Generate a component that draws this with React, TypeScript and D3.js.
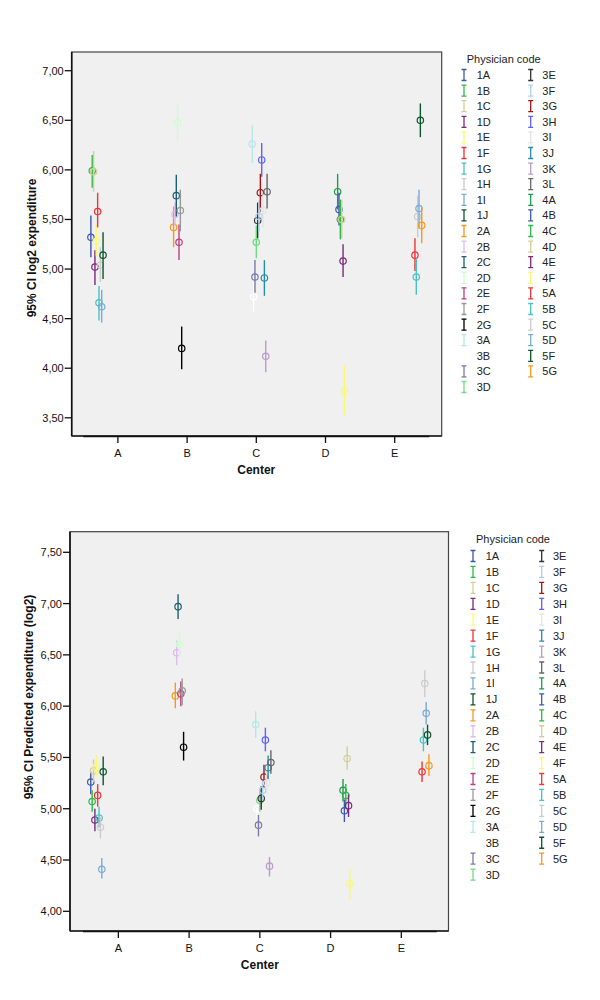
import React from 'react';
import * as d3 from 'd3';

const centers = ['A', 'B', 'C', 'D', 'E'];
const physicians = ['1A','1B','1C','1D','1E','1F','1G','1H','1I','1J','2A','2B','2C','2D','2E','2F','2G','3A','3B','3C','3D','3E','3F','3G','3H','3I','3J','3K','3L','4A','4B','4C','4D','4E','4F','5A','5B','5C','5D','5F','5G'];
const palette = ['#3E58AC','#2EB848','#D3CE97','#7C287D','#FBF873','#EF3338','#48C2C5','#CCCCCC','#7AAAD5','#0A562C','#F8981D','#DDBAF1','#1A5F76','#CCFFCC','#BB3F7F','#999999','#000000','#B6E7E8','#FFFFFF','#797AA7','#70DC84','#333333','#ACD0EE','#A21619','#5D61FF','#E4E4E4','#278BAC','#B89BC9','#666666','#1E9B4E'];

// Chart 1: 95% CI log2 expenditure
const expMean = [5.32,5.99,5.98,5.02,5.28,5.58,4.66,5.04,4.62,5.14,5.42,5.55,5.74,6.48,5.27,5.59,4.20,6.26,4.72,4.92,5.27,5.49,5.53,5.77,6.10,5.59,4.91,4.12,5.78,5.78,5.60,5.50,5.50,5.08,3.77,5.14,4.92,5.53,5.61,6.50,5.44];
const expLow = [5.12,5.82,5.78,4.84,5.13,5.42,4.48,4.87,4.46,4.90,5.22,5.43,5.53,6.29,5.09,5.38,3.99,6.07,4.57,4.76,5.11,5.31,5.37,5.57,5.93,5.42,4.73,3.96,5.61,5.60,5.44,5.30,5.31,4.92,3.53,4.98,4.74,5.32,5.41,6.33,5.26];
const expHigh = [5.54,6.15,6.19,5.19,5.45,5.77,4.83,5.22,4.79,5.37,5.63,5.67,5.95,6.67,5.45,5.80,4.42,6.45,4.88,5.09,5.44,5.67,5.69,5.96,6.27,5.76,5.09,4.28,5.96,5.96,5.77,5.70,5.70,5.25,4.03,5.31,5.10,5.74,5.80,6.67,5.62];
const expTicks = [3.5, 4.0, 4.5, 5.0, 5.5, 6.0, 6.5, 7.0];

// Chart 2: 95% CI Predicted expenditure (log2)
const predMean = [5.26,5.07,5.37,4.89,5.41,5.13,4.91,4.82,4.41,5.36,6.10,6.52,6.97,6.60,6.12,6.15,5.60,5.82,5.00,4.84,5.08,5.10,5.18,5.31,5.67,5.25,5.40,4.44,5.45,5.18,4.98,5.13,5.49,5.03,4.27,5.36,5.67,6.22,5.93,5.72,5.42];
const predLow = [5.14,4.97,5.26,4.78,5.31,5.02,4.82,4.71,4.32,5.23,5.98,6.40,6.85,6.48,6.00,6.01,5.47,5.69,4.89,4.73,4.97,4.99,5.08,5.21,5.56,5.14,5.29,4.34,5.34,5.07,4.87,5.02,5.38,4.92,4.12,5.26,5.56,6.09,5.82,5.62,5.32];
const predHigh = [5.36,5.18,5.48,5.00,5.52,5.24,5.02,4.92,4.52,5.51,6.23,6.64,7.09,6.73,6.24,6.27,5.75,5.95,5.10,4.94,5.18,5.22,5.28,5.43,5.79,5.36,5.52,4.53,5.57,5.29,5.09,5.24,5.61,5.14,4.41,5.46,5.79,6.35,6.04,5.82,5.53];
const predTicks = [4.0, 4.5, 5.0, 5.5, 6.0, 6.5, 7.0, 7.5];

const FONT = 'Liberation Sans, Arial, sans-serif';
const fmt = (v: number) => v.toFixed(2).replace('.', ',');

type PanelProps = {
  frame: { x0: number; x1: number; y0: number; y1: number };
  axisX: [number, number];
  yDomain: [number, number];
  ticks: number[];
  mean: number[]; low: number[]; high: number[];
  yTitle: string; yTitleX: number; yTitleY: number;
  legend: { titleX: number; titleY: number; iconX: number; labelX: number; icon2X: number; label2X: number; rowY: number; step: number };
};

function Panel(p: PanelProps) {
  const { frame, axisX } = p;
  const y = d3.scaleLinear().domain(p.yDomain).range([frame.y1, frame.y0]);
  const x = d3.scaleBand().domain(centers).range(axisX).padding(0);
  const bw = x.bandwidth();
  const dodge = d3.scaleBand().domain(physicians).range([-0.4 * bw, 0.4 * bw]);
  const half = dodge.bandwidth() / 2;
  const color = (i: number) => palette[i % palette.length];
  const center = (code: string) => centers[+code[0] - 1];
  return (
    <g>
      <rect x={frame.x0} y={frame.y0} width={frame.x1 - frame.x0} height={frame.y1 - frame.y0} fill="#F0F0F0" stroke="#444" strokeWidth={1.2} />
      <line x1={frame.x0} x2={frame.x0} y1={frame.y0} y2={frame.y1} stroke="#111" strokeWidth={1.6} />
      <line x1={frame.x0} x2={frame.x1} y1={frame.y1} y2={frame.y1} stroke="#222" strokeWidth={1.3} />
      <line x1={axisX[0]} x2={axisX[1]} y1={frame.y1 + 0.5} y2={frame.y1 + 0.5} stroke="#111" strokeWidth={1.6} />
      {p.ticks.map(t => (
        <g key={t}>
          <line x1={frame.x0 - 7} x2={frame.x0} y1={y(t)} y2={y(t)} stroke="#111" strokeWidth={1.3} />
          <text x={frame.x0 - 8} y={y(t) + 4} textAnchor="end" fontSize={11} fontFamily={FONT} fill="#111">{fmt(t)}</text>
        </g>
      ))}
      {centers.map(c => {
        const cx = (x(c) as number) + bw / 2;
        return (
          <g key={c}>
            <line x1={cx} x2={cx} y1={frame.y1} y2={frame.y1 + 7} stroke="#111" strokeWidth={1.3} />
            <text x={cx} y={frame.y1 + 21} textAnchor="middle" fontSize={11} fontFamily={FONT} fill="#111">{c}</text>
          </g>
        );
      })}
      <text x={(axisX[0] + axisX[1]) / 2} y={frame.y1 + 38} textAnchor="middle" fontSize={12} fontWeight="bold" fontFamily={FONT} fill="#111">Center</text>
      <text transform={`translate(${p.yTitleX},${p.yTitleY}) rotate(-90)`} textAnchor="middle" fontSize={12} fontWeight="bold" fontFamily={FONT} fill="#111" dy="0.35em">{p.yTitle}</text>
      {physicians.map((code, i) => {
        const cx = (x(center(code)) as number) + bw / 2 + (dodge(code) as number) + half;
        return (
          <g key={code}>
            <line x1={cx} x2={cx} y1={y(p.low[i])} y2={y(p.high[i])} stroke={color(i)} strokeWidth={1.4} />
            <circle cx={cx} cy={y(p.mean[i])} r={3.2} fill="none" stroke={color(i)} strokeWidth={1.2} />
          </g>
        );
      })}
      <text x={p.legend.titleX} y={p.legend.titleY} fontSize={11} fontFamily={FONT} fill="#222">Physician code</text>
      {physicians.map((code, i) => {
        const col = i < 21 ? 0 : 1;
        const row = i < 21 ? i : i - 21;
        const cy = p.legend.rowY + row * p.legend.step;
        const ix = col === 0 ? p.legend.iconX : p.legend.icon2X;
        const lx = col === 0 ? p.legend.labelX : p.legend.label2X;
        return (
          <g key={code}>
            <path d={`M${ix - 2.5},${cy - 5.5}H${ix + 2.5}M${ix},${cy - 5.5}V${cy + 5.5}M${ix - 2.5},${cy + 5.5}H${ix + 2.5}`} stroke={color(i)} strokeWidth={1.3} fill="none" />
            <text x={lx} y={cy + 4} fontSize={11} fontFamily={FONT} fill="#222">{code}</text>
          </g>
        );
      })}
    </g>
  );
}

export default function App() {
  return (
    <svg width={600} height={1000} style={{ position: 'absolute', left: 0, top: 0, background: '#fff' }}>
      <Panel
        frame={{ x0: 71.7, x1: 441.7, y0: 52, y1: 436 }}
        axisX={[83.3, 429.3]}
        yDomain={[3.3165, 7.1886]}
        ticks={expTicks}
        mean={expMean} low={expLow} high={expHigh}
        yTitle="95% CI log2 expenditure" yTitleX={32} yTitleY={248}
        legend={{ titleX: 466.7, titleY: 63, iconX: 464, labelX: 476.7, icon2X: 530.7, label2X: 542.3, rowY: 75, step: 15.6 }}
      />
      <Panel
        frame={{ x0: 70, x1: 448.5, y0: 531.7, y1: 931 }}
        axisX={[83, 436.7]}
        yDomain={[3.808, 7.7008]}
        ticks={predTicks}
        mean={predMean} low={predLow} high={predHigh}
        yTitle="95% CI Predicted expenditure (log2)" yTitleX={28.5} yTitleY={697}
        legend={{ titleX: 476, titleY: 543, iconX: 473, labelX: 485.7, icon2X: 541.7, label2X: 553, rowY: 556, step: 15.93 }}
      />
    </svg>
  );
}
